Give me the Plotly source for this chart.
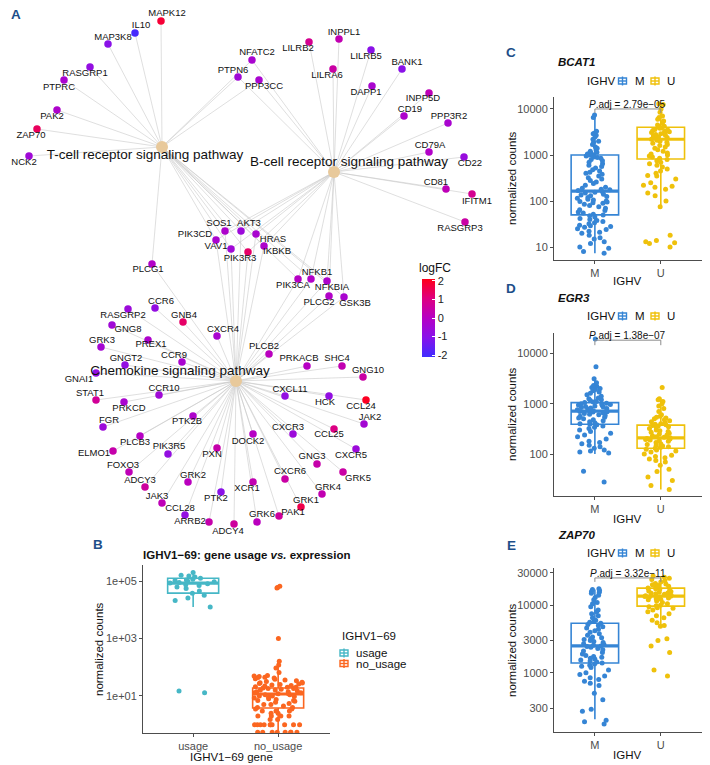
import plotly.graph_objects as go
import math

# reference canvas is 710x765; the page body adds an 8px margin, so the figure is
# sized to the remaining area and every reference pixel position is shifted by 8.
W, H = 710, 765
OFF = 8
FW, FH = W - OFF, H - OFF
FONT = "Liberation Sans, Arial, Helvetica, sans-serif"
AX_COL = "#4D4D4D"
LETTER_COL = "#1D4E89"

# ---------------- Panel A : gene-concept network ----------------
hub_names = ["T-cell receptor signaling pathway", "B-cell receptor signaling pathway",
             "Chemokine signaling pathway"]
hub_keys = ["T", "B", "C"]
hub_x = [162, 334, 236]
hub_y = [147, 172, 381]
hub_label_x = [145, 349, 180]
hub_label_y = [156, 163, 372]

genes = ["MAPK12", "IL10", "MAP3K8", "RASGRP1", "PTPRC", "PAK2", "ZAP70", "NCK2",
         "PTPN6", "NFATC2", "PPP3CC",
         "LILRB2", "INPPL1", "LILRB5", "BANK1", "LILRA6", "DAPP1", "INPP5D", "CD19",
         "PPP3R2", "CD79A", "CD22", "CD81", "IFITM1", "RASGRP3",
         "SOS1", "AKT3", "PIK3CD", "VAV1", "PIK3R3", "HRAS", "IKBKB", "NFKB1", "PIK3CA",
         "NFKBIA", "PLCG2", "GSK3B", "PLCG1",
         "CCR6", "RASGRP2", "GNB4", "GNG8", "CXCR4", "GRK3", "PREX1", "GNGT2", "CCR9",
         "GNAI1", "STAT1", "CCR10", "PRKCD", "FGR", "PTK2B", "PLCB3", "ELMO1", "PIK3R5",
         "PXN", "DOCK2", "FOXO3", "ADCY3", "GRK2", "JAK3", "PTK2", "CCL28", "ARRB2",
         "ADCY4", "XCR1", "CXCL11", "HCK", "CCL24", "JAK2", "CXCR3", "CCL25", "CXCR5",
         "GNG3", "GRK5", "CXCR6", "GRK4", "GRK1", "PAK1", "GRK6", "PLCB2", "PRKACB",
         "SHC4", "GNG10"]
gene_x = [161, 135, 108, 90, 64, 57, 37, 29,
          238, 252, 259,
          309, 339, 371, 402, 333, 372, 429, 404, 448, 429, 464, 446, 472, 465,
          225, 241, 216, 231, 248, 256, 264, 311, 298, 327, 329, 344, 152,
          155, 128, 183, 112, 217, 101, 148, 125, 182, 96, 96, 159, 124, 103, 193, 140,
          113, 168, 217, 253, 129, 145, 188, 162, 221, 185, 209, 234, 253, 285, 329,
          366, 364, 293, 334, 356, 317, 343, 285, 322, 301, 279, 257, 269, 307, 342, 363]
gene_y = [21, 33, 44, 67, 80, 110, 129, 156,
          77, 60, 80,
          42, 39, 50, 69, 69, 86, 93, 116, 123, 152, 157, 189, 194, 222,
          231, 231, 240, 249, 252, 234, 246, 279, 279, 281, 296, 297, 264,
          308, 309, 322, 325, 336, 347, 340, 365, 362, 373, 400, 395, 402, 427, 416, 436,
          451, 454, 448, 434, 472, 487, 482, 503, 492, 515, 522, 524, 482, 396, 396,
          400, 424, 434, 429, 449, 464, 472, 479, 494, 507, 516, 522, 354, 366, 366, 377]
gene_label_x = [167, 141, 113, 85, 59, 52, 31, 24,
                233, 257, 264,
                298, 344, 366, 407, 327, 366, 423, 410, 449, 430, 470, 436, 477, 460,
                219, 249, 195, 216, 240, 273, 277, 317, 293, 332, 319, 355, 148,
                161, 123, 184, 128, 223, 102, 151, 126, 174, 79, 90, 164, 129, 109, 187, 135,
                94, 169, 212, 248, 123, 140, 193, 157, 216, 180, 190, 228, 247, 290, 325,
                361, 370, 288, 329, 351, 312, 358, 290, 328, 306, 293, 262, 264, 299, 337, 368]
gene_label_y = [14, 26, 38, 74, 88, 117, 136, 163,
                71, 53, 87,
                49, 33, 57, 63, 76, 93, 99, 110, 117, 146, 164, 183, 202, 229,
                224, 224, 235, 247, 259, 240, 252, 273, 286, 288, 303, 304, 270,
                302, 316, 316, 330, 330, 341, 345, 359, 356, 380, 394, 389, 409, 421, 422, 443,
                454, 447, 455, 442, 466, 481, 476, 497, 499, 509, 522, 532, 489, 390, 403,
                407, 418, 428, 435, 456, 457, 479, 472, 488, 501, 513, 515, 347, 359, 359, 371]
gene_logfc = [1.8, -2.0, -1.0, -0.8, -0.3, -0.2, 1.4, -0.5,
              -0.5, -0.3, -0.3,
              0.8, 0.3, -1.0, -1.0, 0.5, -0.3, 0.2, -0.2, -0.3, -0.1, -0.7, 0.2, 0.8, 0.5,
              -0.2, -0.6, -0.3, -0.5, 1.3, -0.3, -0.2, -0.1, 0.0, -0.2, -0.1, -0.3, -0.1,
              -0.8, -0.6, 1.3, -0.5, -0.3, -0.4, -0.2, -0.8, -0.3, -0.8, 0.7, -0.5, -0.3,
              -0.6, -0.2, 0.0, 0.4, -0.8, 0.4, 0.0, 0.2, 0.6, 0.1, 0.2, -1.0, -0.8, 0.4,
              0.6, 0.3, -0.8, -0.8, 2.0, -0.4, -0.6, 1.0, -0.6, 0.4, 0.5, 0.5, 0.3, 1.6,
              0.6, 0.1, 0.1, 0.0, 0.3, 0.5]
gene_pathways = ["T"] * 8 + ["TB"] * 3 + ["B"] * 14 + \
                ["TBC", "TBC", "TBC", "TBC", "TBC", "TBC", "TBC", "TBC", "TBC", "TBC",
                 "BC", "TBC", "TC"] + ["C"] * 47

logfc_limits = [-2.1, 2.1]
logfc_ticks = [-2, -1, 0, 1, 2]
logfc_colorscale = [[0.0, "#3F2CFF"], [0.25, "#8812EA"], [0.5, "#B600C4"],
                    [0.75, "#DE0080"], [1.0, "#FF0018"]]

# ---------------- Panel B : IGHV1-69 usage vs expression ----------------
b_groups = ["usage", "no_usage"]
b_colors = ["#46B7C6", "#FB6620"]
b_q1 = [38000, 3.8]
b_median = [85000, 11.7]
b_q3 = [125000, 19]
b_lower = [12600, 0.55]
b_upper = [200000, 150]
b_usage_pts = [200000, 160000, 150000, 140000, 125000, 115000, 110000, 105000, 100000,
               95000, 90000, 85000, 80000, 75000, 70000, 62000, 55000, 45000, 38000,
               32000, 26000, 21000, 12500, 15, 13]
b_nousage_pts = [66000, 60000, 58000, 1000, 160, 120, 95, 65, 52, 50, 48, 45, 44, 42, 40,
                 38, 36, 34, 32, 30, 29, 28, 27, 26, 25, 24, 23, 22, 21, 20, 20, 19, 18, 18,
                 17, 16, 16, 15, 14, 14, 13, 13, 12, 12, 11, 11, 10, 10, 9.5, 9, 8.5, 8, 7.5,
                 7, 7, 6.5, 6, 5.5, 5, 5, 4.5, 4, 4, 3.5, 3.5, 3, 3, 3, 2.5, 2.5, 2, 2, 2, 2,
                 1.5, 1.5, 1, 1, 1, 1, 1, 1, 1, 1, 1, 1, 0.55, 0.55, 0.55, 0.55, 0.55, 0.55,
                 0.55, 0.55]

# ---------------- Panels C/D/E : IGHV M vs U ----------------
ighv_groups = ["M", "U"]
ighv_colors = ["#3685D5", "#EFC10B"]

c_gene = "BCAT1"
c_padj = "2.79e\u221205"
c_q1 = [50, 820]
c_median = [165, 2200]
c_q3 = [1000, 4000]
c_lower = [7.4, 70]
c_upper = [7400, 13000]
c_m_pts = [7400, 6500, 3300, 3000, 2900, 2700, 2500, 2200, 2000, 1900, 1700, 1500, 1400,
           1300, 1200, 1150, 1100, 1050, 1050, 1000, 1000, 1000,
           950, 900, 880, 850, 800, 750, 700, 650, 600, 560, 520, 480, 450, 420, 400, 380,
           350, 320, 300, 280, 260, 240, 220, 200, 190, 180, 175, 170,
           160, 155, 150, 140, 135, 130, 125, 120, 115, 110, 105, 100, 98, 95, 92, 90, 85,
           80, 75, 70, 65, 62, 58, 55, 52, 50,
           48, 45, 42, 40, 38, 36, 34, 32, 30, 29, 28, 27, 25, 24, 22, 21, 20, 18, 16, 15,
           13, 12, 10, 9.5, 8, 7.4]
c_u_pts = [18, 14, 13, 12.5, 12, 10,
           75, 100, 130, 150, 180, 200, 210, 220, 250, 300, 350, 360, 400, 450, 500, 550,
           600, 650, 700, 750, 800,
           850, 900, 950, 1000, 1050, 1100, 1200, 1300, 1400, 1500, 1600, 1700, 1800, 1900,
           2000, 2100, 2200, 2300, 2400, 2500, 2600, 2700, 2800, 2900, 3000, 3100, 3200,
           3300, 3400, 3500, 3600, 3800, 3900, 4000,
           4200, 4500, 5000, 5500, 6000, 6500, 7000, 8500, 10000, 12500, 13000]

d_gene = "EGR3"
d_padj = "1.38e\u221207"
d_q1 = [390, 131]
d_median = [710, 210]
d_q3 = [1050, 375]
d_lower = [100, 20]
d_upper = [3000, 1250]
d_m_pts = [19000, 5400, 3100, 2600, 2300, 2200, 2100, 2000, 1900, 1800, 1700, 1600, 1500,
           1400, 1300, 1250, 1200, 1150, 1100, 1080, 1050, 1020, 1000, 980, 960, 940, 920,
           900, 880, 860, 840, 820, 800, 780, 760, 740, 720, 710, 700, 690, 680, 660, 640,
           620, 600, 580, 560, 540, 520, 500, 480, 460, 440, 420, 400, 390, 380, 360, 340,
           320, 300, 280, 260, 240, 220, 200, 180, 170, 160, 150, 140, 130, 120, 115, 110,
           105, 46, 28]
d_u_pts = [2100, 1250, 1200, 1100, 1000, 900, 800, 700, 600, 560, 540, 520, 500, 480, 460,
           440, 420, 400, 390, 380, 370, 360, 350, 340, 320, 300, 290, 280, 270, 260, 250,
           240, 230, 220, 215, 210, 205, 200, 195, 190, 185, 180, 170, 160, 155, 150, 145,
           140, 135, 130, 125, 120, 115, 110, 100, 95, 90, 85, 80, 75, 70, 60, 50, 45, 35,
           30, 24, 20]

e_gene = "ZAP70"
e_padj = "3.32e\u221211"
e_q1 = [1400, 9700]
e_median = [2500, 13600]
e_q3 = [5400, 17900]
e_lower = [207, 4900]
e_upper = [17000, 27000]
e_m_pts = [17500, 17000, 16500, 16000, 15500, 15000, 14000, 13000, 12000, 11000, 10500,
           9500, 8500, 8000, 7500, 7000, 6500, 6000, 5800, 5600, 5400, 5200, 5000, 4800,
           4600, 4400, 4200, 4000, 3800, 3600, 3400, 3300, 3200, 3100, 3000, 2900, 2800,
           2700, 2600, 2550, 2500, 2450, 2400, 2300, 2200, 2100, 2000, 1900, 1800, 1750,
           1700, 1650, 1600, 1550, 1500, 1450, 1400, 1350, 1300, 1250, 1200, 1100, 1000,
           950, 900, 850, 800, 750, 700, 650, 500, 400, 290, 270, 200, 190, 175]
e_u_pts = [27000, 26000, 25000, 24000, 23000, 22000, 21000, 20500, 20000, 19500, 19000,
           18500, 18000, 17500, 17000, 16500, 16200, 16000, 15500, 15200, 15000, 14800,
           14500, 14000, 13800, 13600, 13400, 13200, 13000, 12800, 12500, 12200, 12000,
           11500, 11000, 10500, 10000, 9800, 9500, 9200, 9000, 8500, 8000, 7500, 7000, 6500,
           6000, 5500, 5000, 4900, 3200, 3000, 2500, 2000, 1100, 900]

# significance bracket heights (top, drop) for C, D, E
bracket_top = [10000, 18100, 25300]
bracket_drop = [8200, 14400, 22100]


def fx(p):
    return (p - OFF) / FW


def fy(p):
    return 1 - (p - OFF) / FH


fig = go.Figure()

# ---- Panel A traces ----
ex, ey = [], []
for i in range(len(genes)):
    for k, key in enumerate(hub_keys):
        if key in gene_pathways[i]:
            ex += [gene_x[i], hub_x[k], None]
            ey += [gene_y[i], hub_y[k], None]
fig.add_trace(go.Scatter(x=ex, y=ey, mode="lines", line=dict(color="#C9C9C9", width=0.6),
                         hoverinfo="skip", showlegend=False, xaxis="x", yaxis="y"))
fig.add_trace(go.Scatter(x=hub_x, y=hub_y, mode="markers", text=hub_names,
                         marker=dict(size=12, color="#E8C99B"), showlegend=False,
                         xaxis="x", yaxis="y"))
fig.add_trace(go.Scatter(
    x=gene_x, y=gene_y, mode="markers", text=genes, showlegend=False, xaxis="x", yaxis="y",
    marker=dict(size=7.5, color=gene_logfc, colorscale=logfc_colorscale,
                cmin=logfc_limits[0], cmax=logfc_limits[1], showscale=True,
                colorbar=dict(x=fx(422), xanchor="left", xpad=0, y=fy(318), yanchor="middle",
                              ypad=0, len=78 / FH, lenmode="fraction", thickness=13,
                              thicknessmode="pixels", outlinewidth=0,
                              tickvals=logfc_ticks, ticktext=[str(t) for t in logfc_ticks],
                              ticks="inside", ticklen=3, tickcolor="white",
                              tickfont=dict(size=11, family=FONT, color="#222")))))
fig.add_trace(go.Scatter(x=gene_label_x, y=gene_label_y, mode="text", text=genes,
                         textfont=dict(size=9.5, family=FONT, color="#111"), cliponaxis=False,
                         hoverinfo="skip", showlegend=False, xaxis="x", yaxis="y"))
fig.add_trace(go.Scatter(x=hub_label_x, y=hub_label_y, mode="text", text=hub_names,
                         textfont=dict(size=13.5, family=FONT, color="#111"), cliponaxis=False,
                         hoverinfo="skip", showlegend=False, xaxis="x", yaxis="y"))


# ---- box panels ----
def box_panel(xa, ya, colors, q1, med, q3, lo, hi, pts_list, bw, jit):
    for i in range(len(colors)):
        fig.add_trace(go.Box(x=[i], q1=[q1[i]], median=[med[i]], q3=[q3[i]],
                             lowerfence=[lo[i]], upperfence=[hi[i]], width=bw,
                             whiskerwidth=0, boxpoints=False,
                             line=dict(color=colors[i], width=1.6), fillcolor="white",
                             xaxis=xa, yaxis=ya, showlegend=False, hoverinfo="skip"))
        fig.add_trace(go.Scatter(x=[i - bw / 2, i + bw / 2], y=[med[i], med[i]], mode="lines",
                                 line=dict(color=colors[i], width=3.2), xaxis=xa, yaxis=ya,
                                 showlegend=False, hoverinfo="skip"))
        fig.add_trace(go.Box(y=pts_list[i], x0=i, width=bw, boxpoints="all", jitter=jit,
                             pointpos=0, marker=dict(color=colors[i], size=5),
                             line=dict(color="rgba(0,0,0,0)", width=0),
                             fillcolor="rgba(0,0,0,0)", whiskerwidth=0,
                             xaxis=xa, yaxis=ya, showlegend=False))


box_panel("x2", "y2", b_colors, b_q1, b_median, b_q3, b_lower, b_upper,
          [b_usage_pts, b_nousage_pts], 0.6, 0.95)
box_panel("x3", "y3", ighv_colors, c_q1, c_median, c_q3, c_lower, c_upper,
          [c_m_pts, c_u_pts], 0.72, 0.75)
box_panel("x4", "y4", ighv_colors, d_q1, d_median, d_q3, d_lower, d_upper,
          [d_m_pts, d_u_pts], 0.72, 0.75)
box_panel("x5", "y5", ighv_colors, e_q1, e_median, e_q3, e_lower, e_upper,
          [e_m_pts, e_u_pts], 0.72, 0.75)

# significance brackets
for j, (xa, ya) in enumerate([("x3", "y3"), ("x4", "y4"), ("x5", "y5")]):
    fig.add_trace(go.Scatter(x=[0, 0, 1, 1],
                             y=[bracket_drop[j], bracket_top[j], bracket_top[j], bracket_drop[j]],
                             mode="lines", line=dict(color="#8C8C8C", width=1),
                             xaxis=xa, yaxis=ya, showlegend=False, hoverinfo="skip"))


def x_axis(domain_px, anchor, ticktext, rng):
    return dict(domain=[fx(domain_px[0]), fx(domain_px[1])], anchor=anchor, range=rng,
                tickmode="array", tickvals=list(range(len(ticktext))), ticktext=ticktext,
                showline=True, linecolor=AX_COL, linewidth=1, ticks="outside", ticklen=2.5,
                tickcolor=AX_COL, tickfont=dict(size=11, color=AX_COL, family=FONT),
                showgrid=False, zeroline=False, fixedrange=True)


def y_axis(domain_px, anchor, rng, tickvals, ticktext):
    return dict(domain=[fy(domain_px[1]), fy(domain_px[0])], anchor=anchor, type="log",
                range=rng, tickmode="array", tickvals=tickvals, ticktext=ticktext,
                showline=True, linecolor=AX_COL, linewidth=1, ticks="outside", ticklen=3,
                tickcolor=AX_COL, tickfont=dict(size=11, color=AX_COL, family=FONT),
                showgrid=False, zeroline=False, fixedrange=True)


layout = dict(
    width=FW, height=FH, autosize=False, margin=dict(l=0, r=0, t=0, b=0),
    paper_bgcolor="white", plot_bgcolor="white", showlegend=False, boxmode="overlay",
    font=dict(family=FONT),
    xaxis=dict(domain=[0, fx(500)], range=[OFF, 500], visible=False, fixedrange=True),
    yaxis=dict(domain=[fy(540), 1], range=[540, OFF], visible=False, fixedrange=True),
    xaxis2=x_axis((143, 330), "y2", b_groups, [-0.59, 1.61]),
    yaxis2=y_axis((565, 733), "x2", [-0.29, 5.56], [10, 1000, 100000],
                  ["1e+01", "1e+03", "1e+05"]),
    xaxis3=x_axis((554, 703), "y3", ighv_groups, [-0.62, 1.64]),
    yaxis3=y_axis((97, 260), "x3", [0.72, 4.26], [10, 100, 1000, 10000],
                  ["10", "100", "1000", "10000"]),
    xaxis4=x_axis((554, 703), "y4", ighv_groups, [-0.62, 1.64]),
    yaxis4=y_axis((333, 496), "x4", [1.17, 4.4], [100, 1000, 10000],
                  ["100", "1000", "10000"]),
    xaxis5=x_axis((554, 703), "y5", ighv_groups, [-0.62, 1.64]),
    yaxis5=y_axis((568, 732), "x5", [2.126, 4.55], [300, 1000, 3000, 10000, 30000],
                  ["300", "1000", "3000", "10000", "30000"]),
)
fig.update_layout(**layout)

ann = []
shapes = []


def txt(x, y, s, size=11.5, color="#111", xanchor="center", yanchor="middle", angle=0):
    ann.append(dict(x=fx(x), y=fy(y), xref="paper", yref="paper", text=s, showarrow=False,
                    xanchor=xanchor, yanchor=yanchor, textangle=angle,
                    font=dict(size=size, color=color, family=FONT)))


# panel letters
for letter, (lx, ly) in zip("ABCDE", [(16, 15), (98, 544), (511, 52), (511, 288), (511, 545)]):
    txt(lx, ly, "<b>%s</b>" % letter, size=13.5, color=LETTER_COL)

# colour bar title
txt(417, 268, "logFC", size=12, xanchor="left")

# panel B texts
txt(246, 555, "<b>IGHV1\u221269: gene usage <i>vs.</i> expression</b>", size=11.5)
txt(99, 649, "normalized counts", angle=-90)
txt(231, 757, "IGHV1\u221269 gene")
txt(340, 636, "IGHV1\u221269", xanchor="left")


def key(xc, yc, color):
    s = 4
    shapes.append(dict(type="rect", xref="paper", yref="paper", x0=fx(xc - s), x1=fx(xc + s),
                       y0=fy(yc + s * 0.75), y1=fy(yc - s * 0.75),
                       line=dict(color=color, width=1.4), fillcolor="white"))
    shapes.append(dict(type="line", xref="paper", yref="paper", x0=fx(xc - s), x1=fx(xc + s),
                       y0=fy(yc), y1=fy(yc), line=dict(color=color, width=1.4)))
    shapes.append(dict(type="line", xref="paper", yref="paper", x0=fx(xc), x1=fx(xc),
                       y0=fy(yc + s + 0.5), y1=fy(yc - s - 0.5), line=dict(color=color, width=1.4)))


for i, (g, c) in enumerate(zip(b_groups, b_colors)):
    yy = 653 + 10.5 * i
    key(344, yy, c)
    txt(354, yy, g, xanchor="left")

# panels C, D, E texts
panel_tops = [(c_gene, c_padj, 62, 81, 178, 281),
              (d_gene, d_padj, 298, 316, 414, 519),
              (e_gene, e_padj, 535, 553, 650, 755)]
for j, (gname, padj, ty, ly, ycen, xt) in enumerate(panel_tops):
    txt(556, ty, "<b><i>%s</i></b>" % gname, xanchor="left", size=11.5)
    txt(585, ly, "IGHV", xanchor="left")
    key(622.5, ly, ighv_colors[0])
    txt(633, ly, ighv_groups[0], xanchor="left")
    key(655, ly, ighv_colors[1])
    txt(665, ly, ighv_groups[1], xanchor="left")
    txt(512, ycen, "normalized counts", angle=-90)
    txt(627, xt, "IGHV")
    xa = ["x3", "x4", "x5"][j]
    ya = ["y3", "y4", "y5"][j]
    ann.append(dict(x=0.5, y=math.log10(bracket_top[j]), xref=xa, yref=ya,
                    text="<i>P</i>.adj = %s" % padj, showarrow=False, xanchor="center",
                    yanchor="bottom", yshift=-3,
                    font=dict(size=10, color="#111", family=FONT)))

fig.update_layout(annotations=ann, shapes=shapes)
fig.write_html("out.html")
